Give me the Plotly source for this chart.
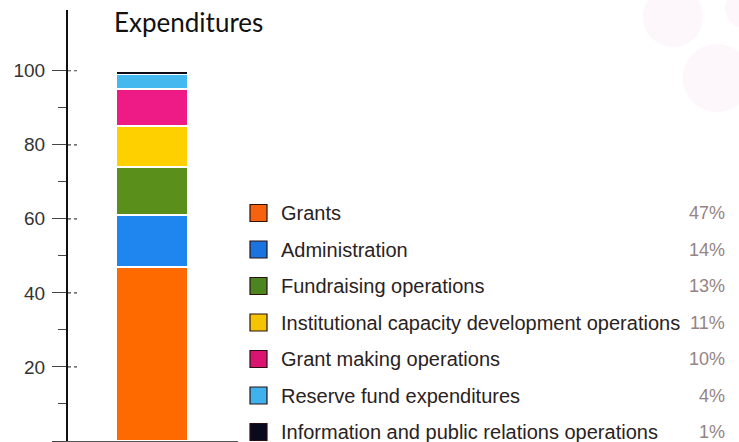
import plotly.graph_objects as go

categories = ["Grants", "Administration", "Fundraising operations",
              "Institutional capacity development operations",
              "Grant making operations", "Reserve fund expenditures",
              "Information and public relations operations"]
values = [47, 14, 13, 11, 10, 4, 1]
bar_colors = ["#ff6a00", "#1e86ee", "#5b8f1c", "#ffd000", "#ee1a86", "#45b8f0", "#0b0b18"]
legend_colors = ["#f7620e", "#1a74e0", "#4c8420", "#f5c400", "#da1470", "#3fb2ee", "#0a0a1e"]
y_ticks = [0, 20, 40, 60, 80, 100]
y_tick_labels = ["", "20", "40", "60", "80", "100"]
y_minor_ticks = [10, 30, 50, 70, 90]
title_text = "Expenditures"

W, H = 739, 442
ML, MT, MB = 68, 10, 1
PW, PH = W - ML, H - MT - MB
Y_TOP = 116.4

def px_x(p):
    return (p - ML) / PW

def px_y(p):
    return (H - MB - p) / PH

fig = go.Figure()
for name, v, c in zip(categories, values, bar_colors):
    fig.add_trace(go.Bar(
        x=[0], y=[v], name=name, width=0.42,
        marker=dict(color=c, line=dict(color="white", width=1.8)),
        showlegend=False, hoverinfo="skip",
    ))

shapes = []
annotations = []

# tick marks crossing the axis (inside part), at the axis tick values
for t in y_ticks[1:]:
    shapes.append(dict(type="line", xref="paper", yref="y", x0=px_x(68), x1=px_x(77),
                       y0=t, y1=t, line=dict(color="#444444", width=1.2, dash="dot")))

# Custom legend built from data lists
row0, step = 213, 36.5
for i, (name, v, c) in enumerate(zip(categories, values, legend_colors)):
    cy = row0 + i * step
    shapes.append(dict(type="rect", xref="paper", yref="paper",
                       x0=px_x(250), x1=px_x(267), y0=px_y(cy + 8.5), y1=px_y(cy - 8.5),
                       fillcolor=c, line=dict(color="#2a1010", width=1.2)))
    annotations.append(dict(xref="paper", yref="paper", x=px_x(279), y=px_y(cy),
                            text=name, showarrow=False, xanchor="left", yanchor="middle",
                            font=dict(family="Liberation Sans", size=20, color="#2a2222")))
    annotations.append(dict(xref="paper", yref="paper", x=px_x(727), y=px_y(cy),
                            text=f"{v}%", showarrow=False, xanchor="right", yanchor="middle",
                            font=dict(family="Liberation Sans", size=18, color="#948484")))

annotations.append(dict(xref="paper", yref="paper", x=px_x(112), y=px_y(22),
                        text=title_text, showarrow=False, xanchor="left", yanchor="middle",
                        font=dict(family="Lato", size=26, color="#111111")))

# faint decorative circles of the printed page
for cx, cy, r in [(673, 17, 30), (717, 78, 34), (745, 8, 20)]:
    shapes.append(dict(type="circle", xref="paper", yref="paper", layer="below",
                       x0=px_x(cx - r), x1=px_x(cx + r), y0=px_y(cy + r), y1=px_y(cy - r),
                       fillcolor="#fdf6fb", line=dict(width=0)))

fig.update_layout(
    width=W, height=H,
    margin=dict(l=ML, r=0, t=MT, b=MB, pad=0),
    barmode="stack",
    plot_bgcolor="rgba(0,0,0,0)", paper_bgcolor="white",
    shapes=shapes, annotations=annotations,
    xaxis=dict(domain=[0, 170 / PW], range=[-0.494, 0.506], showticklabels=False,
               showgrid=False, zeroline=False, showline=True, linecolor="#555555",
               linewidth=1.5, ticks="", layer="below traces", fixedrange=True),
    yaxis=dict(range=[0, Y_TOP], tickvals=y_ticks, ticktext=y_tick_labels,
               showgrid=False, zeroline=False, showline=True, linecolor="#111111",
               linewidth=2, ticks="outside", ticklen=14, tickwidth=1.2, tickcolor="#444444",
               minor=dict(tickvals=y_minor_ticks, ticks="outside", ticklen=8,
                          tickcolor="#444444", tickwidth=1.2),
               tickfont=dict(family="Liberation Sans", size=19, color="#333333"),
               ticklabelstandoff=3, layer="below traces"),
)

fig.write_html("out.html")
